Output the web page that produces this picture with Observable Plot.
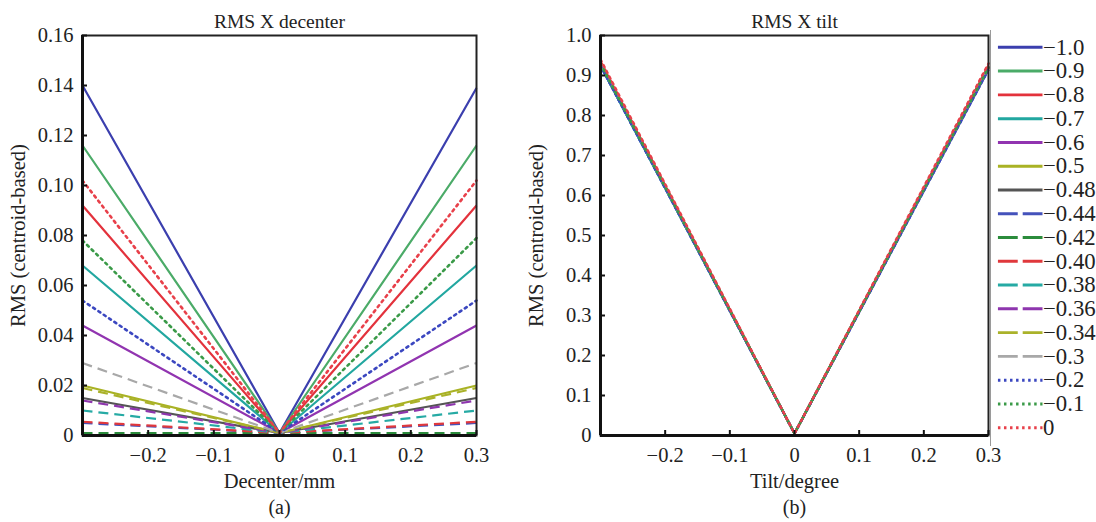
<!DOCTYPE html>
<html>
<head>
<meta charset="utf-8">
<script src="https://cdn.jsdelivr.net/npm/d3@7"></script>
<script src="https://cdn.jsdelivr.net/npm/@observablehq/plot@0.6"></script>
<style>
  html, body { margin: 0; padding: 0; background: #fff; }
  #wrap { position: relative; width: 1096px; height: 522px; overflow: hidden; font-family: "Liberation Serif", "Times New Roman", serif; }
  #wrap > div { position: absolute; top: 0; }
  #legendBox { border-left: 1.5px solid #9a9a9a; }
</style>
</head>
<body>
<div id="wrap">
  <div id="left" style="left:0"></div>
  <div id="right" style="left:500px"></div>
  <div id="legendBox" style="left:990px; top:30px"></div>
</div>
<script>
// Series (legend order)
const seriesNames = ["−1.0","−0.9","−0.8","−0.7","−0.6","−0.5","−0.48","−0.44","−0.42","−0.40","−0.38","−0.36","−0.34","−0.3","−0.2","−0.1","0"];
const seriesColors = ["#3b3fae","#4bab68","#e3323c","#22a7a0","#9134b0","#a9b224","#555555","#4452bb","#2b8c3c","#e0383c","#26aaa4","#8e36ae","#aab22a","#a8a8a8","#3b47c0","#3a9a48","#e8404a"];
const seriesStyle = ["solid","solid","solid","solid","solid","solid","solid","dash","dash","dash","dash","dash","dash","dash","dot","dot","dot"];

// Panel (a): RMS X decenter, read at decenter = -0.3, 0, 0.3
const decenterX = [-0.3, 0, 0.3];
const decLeft  = [0.140,0.116,0.092,0.068,0.044,0.020,0.015,0.005,0.001,0.0055,0.010,0.014,0.019,0.029,0.054,0.078,0.102];
const decMid   = [0.001,0.001,0.001,0.001,0.001,0.001,0.001,0.001,0.001,0.001,0.001,0.001,0.001,0.001,0.001,0.001,0.001];
const decRight = [0.139,0.116,0.092,0.068,0.044,0.020,0.015,0.005,0.001,0.0055,0.010,0.014,0.019,0.029,0.054,0.079,0.102];

// Panel (b): RMS X tilt, read at tilt = -0.3, 0, 0.3
const tiltX = [-0.3, 0, 0.3];
const tiltLeft  = [0.925,0.93,0.935,0.925,0.93,0.93,0.93,0.925,0.93,0.935,0.925,0.93,0.93,0.93,0.925,0.93,0.94];
const tiltMid   = [0.005,0.005,0.005,0.005,0.005,0.005,0.005,0.005,0.005,0.005,0.005,0.005,0.005,0.005,0.005,0.005,0.005];
const tiltRight = [0.915,0.92,0.925,0.92,0.92,0.92,0.92,0.915,0.92,0.925,0.92,0.92,0.92,0.92,0.915,0.92,0.93];

const decTicksX = [-0.2,-0.1,0,0.1,0.2,0.3];
const decTicksY = [0,0.02,0.04,0.06,0.08,0.10,0.12,0.14,0.16];
const tiltTicksX = [-0.2,-0.1,0,0.1,0.2,0.3];
const tiltTicksY = [0,0.1,0.2,0.3,0.4,0.5,0.6,0.7,0.8,0.9,1.0];

const dash = {solid: null, dash: "10,6", dot: "2.2,4.2"};
const fontFamily = '"Liberation Serif", "Times New Roman", serif';

function rows(xs, left, mid, right) {
  const out = [];
  seriesNames.forEach((name, i) => {
    [left[i], mid[i], right[i]].forEach((v, j) => out.push({series: name, idx: i, x: xs[j], y: v}));
  });
  return out;
}

function fmtNum(d) { return d === 0 ? "0" : d3.format(".1f")(d).replace("-", "−"); }

function panel({data, xTicks, yTicks, yDomain, yFmt, xLabel, title, tag, width, marginLeft, marginRight}) {
  const lineMarks = seriesNames.map((name, i) =>
    Plot.line(data.filter(d => d.idx === i), {
      x: "x", y: "y", stroke: seriesColors[i], strokeWidth: seriesStyle[i] === "dot" ? 2.6 : 2.2,
      strokeDasharray: dash[seriesStyle[i]], strokeLinecap: seriesStyle[i] === "dot" ? "round" : "butt"
    })
  );
  return Plot.plot({
    width, height: 522,
    marginLeft, marginRight, marginTop: 35, marginBottom: 87,
    style: {background: "transparent", fontFamily, fontSize: "20px", color: "#222", overflow: "visible"},
    x: {domain: [-0.3, 0.3]},
    y: {domain: yDomain},
    marks: [
      ...lineMarks,
      Plot.frame({stroke: "#222", strokeWidth: 2}),
      Plot.ruleX([-0.3], {stroke: "#111", strokeWidth: 3}),
      Plot.ruleY([0], {stroke: "#111", strokeWidth: 3}),
      Plot.axisX(xTicks, {tickSize: -5, tickPadding: 17, tickFormat: fmtNum, fontSize: 20.5, stroke: "#111", strokeWidth: 2,
        label: xLabel, labelAnchor: "center", labelOffset: 52, labelArrow: "none"}),
      Plot.axisY(yTicks, {tickSize: -5, tickPadding: 14, tickFormat: yFmt, fontSize: 20.5, stroke: "#111", strokeWidth: 2,
        label: "RMS (centroid-based)", labelAnchor: "center", labelOffset: 72, labelArrow: "none"}),
      Plot.text([title], {frameAnchor: "top", dy: -21, fontSize: 19.5, fill: "#222"}),
      Plot.text([tag], {frameAnchor: "bottom", dy: 78, fontSize: 20, fill: "#222"})
    ]
  });
}

const decData = rows(decenterX, decLeft, decMid, decRight);
const tiltData = rows(tiltX, tiltLeft, tiltMid, tiltRight);

document.getElementById("left").appendChild(panel({
  data: decData, xTicks: decTicksX, yTicks: decTicksY, yDomain: [0, 0.16],
  yFmt: d => d === 0 ? "0" : d3.format(".2f")(d),
  xLabel: "Decenter/mm", title: "RMS X decenter", tag: "(a)",
  width: 500, marginLeft: 82, marginRight: 24
}));

document.getElementById("right").appendChild(panel({
  data: tiltData, xTicks: tiltTicksX, yTicks: tiltTicksY, yDomain: [0, 1.0],
  yFmt: d => d === 0 ? "0" : d3.format(".1f")(d),
  xLabel: "Tilt/degree", title: "RMS X tilt", tag: "(b)",
  width: 492, marginLeft: 100, marginRight: 4
}));

// Legend
const legendRows = seriesNames.map((name, i) => ({name, i}));
const legendMarks = legendRows.map(r =>
  Plot.ruleY([r.name], {x1: 0, x2: 1, y: d => d, stroke: seriesColors[r.i], strokeWidth: 3,
    strokeDasharray: seriesStyle[r.i] === "dash" ? "20,5" : seriesStyle[r.i] === "dot" ? "2.5,3.6" : null})
);
document.getElementById("legendBox").appendChild(Plot.plot({
  width: 106, height: 420,
  margin: 0,
  style: {background: "transparent", fontFamily, fontSize: "24px", color: "#222"},
  x: {domain: [0, 1], range: [7, 52], axis: null},
  y: {type: "point", domain: seriesNames, range: [15, 402], padding: 0, axis: null},
  marks: [
    ...legendMarks,
    Plot.text(legendRows, {x: 1, y: "name", text: "name", textAnchor: "start", dx: 0, fontSize: 23, fill: "#222"})
  ]
}));
</script>
</body>
</html>
